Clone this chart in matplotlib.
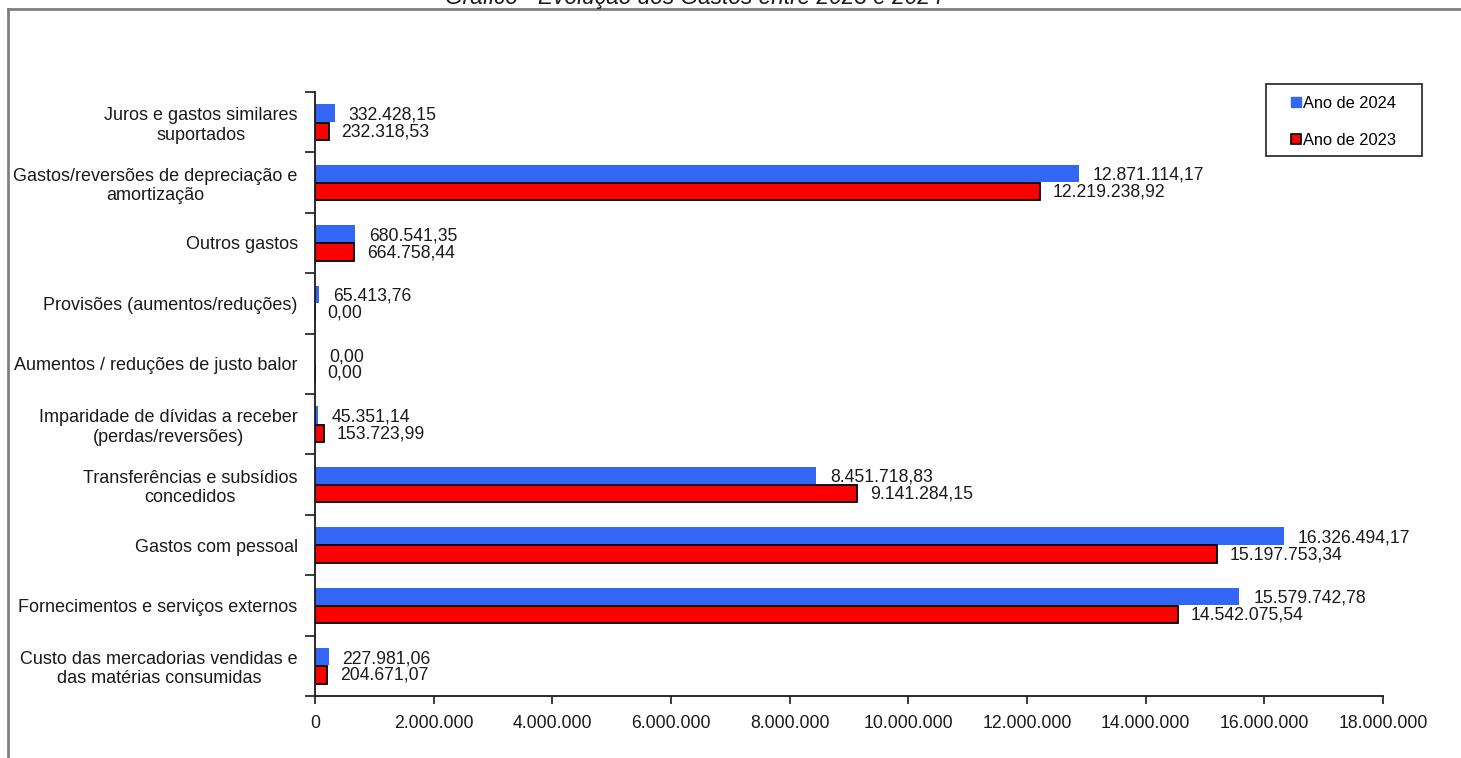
import matplotlib
matplotlib.use("Agg")
import matplotlib.pyplot as plt
from matplotlib.patches import Rectangle
from matplotlib.lines import Line2D
import numpy as np

plt.rcParams['font.family'] = ['Liberation Sans', 'DejaVu Sans']

categories = [
    "Juros e gastos similares\nsuportados",
    "Gastos/reversões de depreciação e\namortização",
    "Outros gastos",
    "Provisões (aumentos/reduções)",
    "Aumentos / reduções de justo balor",
    "Imparidade de dívidas a receber\n(perdas/reversões)",
    "Transferências e subsídios\nconcedidos",
    "Gastos com pessoal",
    "Fornecimentos e serviços externos",
    "Custo das mercadorias vendidas e\ndas matérias consumidas",
]
values_2024 = [332428.15, 12871114.17, 680541.35, 65413.76, 0.00, 45351.14,
               8451718.83, 16326494.17, 15579742.78, 227981.06]
values_2023 = [232318.53, 12219238.92, 664758.44, 0.00, 0.00, 153723.99,
               9141284.15, 15197753.34, 14542075.54, 204671.07]
xticks = [0, 2000000, 4000000, 6000000, 8000000, 10000000, 12000000,
          14000000, 16000000, 18000000]
title = "Gráfico - Evolução dos Gastos entre 2023 e 2024"
legend_labels = ["Ano de 2024", "Ano de 2023"]

BLUE = "#3366F5"
RED = "#FF0000"
TXT = "#1a1a1a"
W, H = 1461, 758


def fmt_pt(v, decimals=2):
    s = f"{v:,.{decimals}f}"
    return s.replace(",", "X").replace(".", ",").replace("X", ".")


fig = plt.figure(figsize=(W / 100, H / 100), dpi=100)
ax = fig.add_axes([315 / W, 1 - 696 / H, (1383 - 315) / W, (696 - 92) / H])

n = len(categories)
ypos = np.arange(n)[::-1]  # first category at top
h = 0.29
ax.barh(ypos + 0.15, values_2024, height=h, color=BLUE, edgecolor=BLUE, linewidth=0)
ax.barh(ypos - 0.15, values_2023, height=h, color=RED, edgecolor="black", linewidth=1.3)

for y, v in zip(ypos, values_2024):
    ax.annotate(fmt_pt(v), (v, y + 0.12), xytext=(10, 0), textcoords="offset points",
                ha="left", va="center", fontsize=12.7, color=TXT)
for y, v in zip(ypos, values_2023):
    ax.annotate(fmt_pt(v), (v, y - 0.16), xytext=(9, 0), textcoords="offset points",
                ha="left", va="center", fontsize=12.7, color=TXT)

ax.set_xlim(0, 18000000)
ax.set_ylim(-0.5, n - 0.5)
ax.set_xticks(xticks)
ax.set_xticklabels([fmt_pt(t, 0) for t in xticks], fontsize=12.7, color=TXT)
ax.tick_params(axis="x", length=6, width=1.2, pad=8, color=TXT)

ax.set_yticks(np.arange(-0.5, n, 1.0))
ax.set_yticklabels([])
ax.tick_params(axis="y", which="major", length=7, width=1.2, color=TXT)
ax.set_yticks(ypos, minor=True)
ax.set_yticklabels(categories, minor=True, fontsize=13, color=TXT,
                   multialignment="center")
ax.tick_params(axis="y", which="minor", length=0, pad=12.5)

for s in ["top", "right"]:
    ax.spines[s].set_visible(False)
for s in ["left", "bottom"]:
    ax.spines[s].set_linewidth(1.3)
    ax.spines[s].set_color(TXT)

# legend (frame drawn separately to match box size)
handles = [
    Line2D([], [], marker="s", linestyle="none", markersize=6.5,
           markerfacecolor=BLUE, markeredgecolor=BLUE),
    Line2D([], [], marker="s", linestyle="none", markersize=6.5,
           markerfacecolor=RED, markeredgecolor="black", markeredgewidth=1.2),
]
fig.legend(handles, legend_labels, loc="upper left",
           bbox_to_anchor=(1290 / W, 1 - 96 / H), fontsize=11.8,
           frameon=False, handlelength=0.7, handletextpad=0.1,
           labelspacing=1.35, borderpad=0, borderaxespad=0)
fig.add_artist(Rectangle((1266 / W, 1 - 156 / H), 156 / W, 72 / H,
                         transform=fig.transFigure, fill=False,
                         edgecolor="#333333", linewidth=1.3))

# outer frame
fig.add_artist(Line2D([8 / W, 1], [1 - 9 / H, 1 - 9 / H], transform=fig.transFigure,
                      color="#808080", linewidth=2))
fig.add_artist(Line2D([8 / W, 8 / W], [0, 1 - 9 / H], transform=fig.transFigure,
                      color="#808080", linewidth=2))

fig.text(694 / W, 1 - 4 / H, title, ha="center", va="baseline",
         fontsize=16.3, style="italic", color=TXT)

fig.savefig("out.png", dpi=100)
